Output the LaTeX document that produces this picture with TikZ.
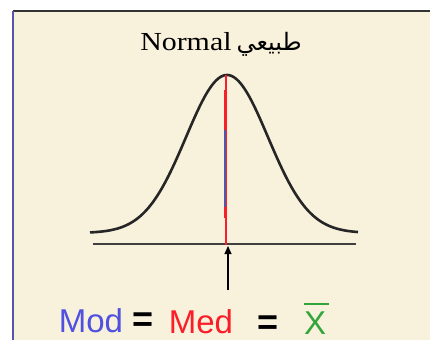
\documentclass[tikz,border=0pt]{standalone}
\usepackage{fontspec}
\setmainfont{Liberation Serif}
\setsansfont{Liberation Sans}
\newfontfamily\arabicfont[Script=Arabic]{DejaVu Sans}
\TeXXeTstate=1
\usetikzlibrary{arrows.meta, positioning}
\definecolor{paper}{RGB}{248,241,220}
\definecolor{modblue}{RGB}{80,80,225}
\definecolor{medred}{RGB}{250,30,40}
\definecolor{xgreen}{RGB}{50,165,60}
\definecolor{lineblue}{RGB}{85,85,170}
\begin{document}
\begin{tikzpicture}[x=1pt, y=-1pt,
    label/.style={inner sep=0pt, anchor=base, text depth=0pt, font=\sffamily\fontsize{33}{36}\selectfont},
    eqsign/.style={inner sep=0pt, anchor=base, text depth=0pt, font=\sffamily\bfseries\fontsize{36}{40}\selectfont},
    curve/.style={line width=2.6pt, black!85},
    arrow/.style={-{Triangle[length=8pt, width=7pt]}, line width=1.2pt}]
    \useasboundingbox (0,0) rectangle (430,340);

    % frame
    \fill[white] (0,0) rectangle (430,340);
    \fill[paper] (13,11) rectangle (430,340);
    \draw[line width=1.5pt, black!80] (13,11) -- (430,11);
    \draw[line width=1.5pt, lineblue] (13,11) -- (13,340);

    % title
    \node[inner sep=0pt, anchor=base] (title) at (221,50)
        {\scalebox{1.15}[1]{\fontsize{26}{30}\selectfont Normal} \ \arabicfont\fontsize{24}{28}\selectfont\beginR طبيعي\endR};

    % bell curve and axis
    \draw[curve] plot[domain=90:358, samples=120, smooth] (\x, {233-158*exp(-((\x-227)/41)^2/2)});
    \coordinate (axisl) at (93,244);
    \coordinate (axisr) at (356,244);
    \draw[line width=1.2pt, black!75] (axisl) -- (axisr);

    % mean / median / mode line
    \coordinate (peak) at (226,75);
    \coordinate (foot) at (226,245);
    \draw[line width=1.2pt, medred] (peak) -- (foot);
    \draw[line width=2.6pt, medred] (225,90) -- (225,218);
    \draw[line width=2.2pt, lineblue] (225,130) -- (225,207);

    % pointer
    \coordinate (tail) at (228,290);
    \coordinate (tip) at (228,246);
    \draw[arrow] (tail) -- (tip);

    % bottom labels
    \node[label, text=modblue] (mod) at (91,332) {Mod};
    \node[eqsign] (eqa) at (143,331) {=};
    \node[label, text=medred] (med) at (201,333) {Med};
    \node[eqsign] (eqb) at (268,334) {=};
    \node[label, text=xgreen] (xbar) at (315,334) {X};
    \draw[line width=1.3pt, xgreen] ([yshift=7pt]xbar.north west) -- ([yshift=7pt, xshift=3pt]xbar.north east);
\end{tikzpicture}
\end{document}
